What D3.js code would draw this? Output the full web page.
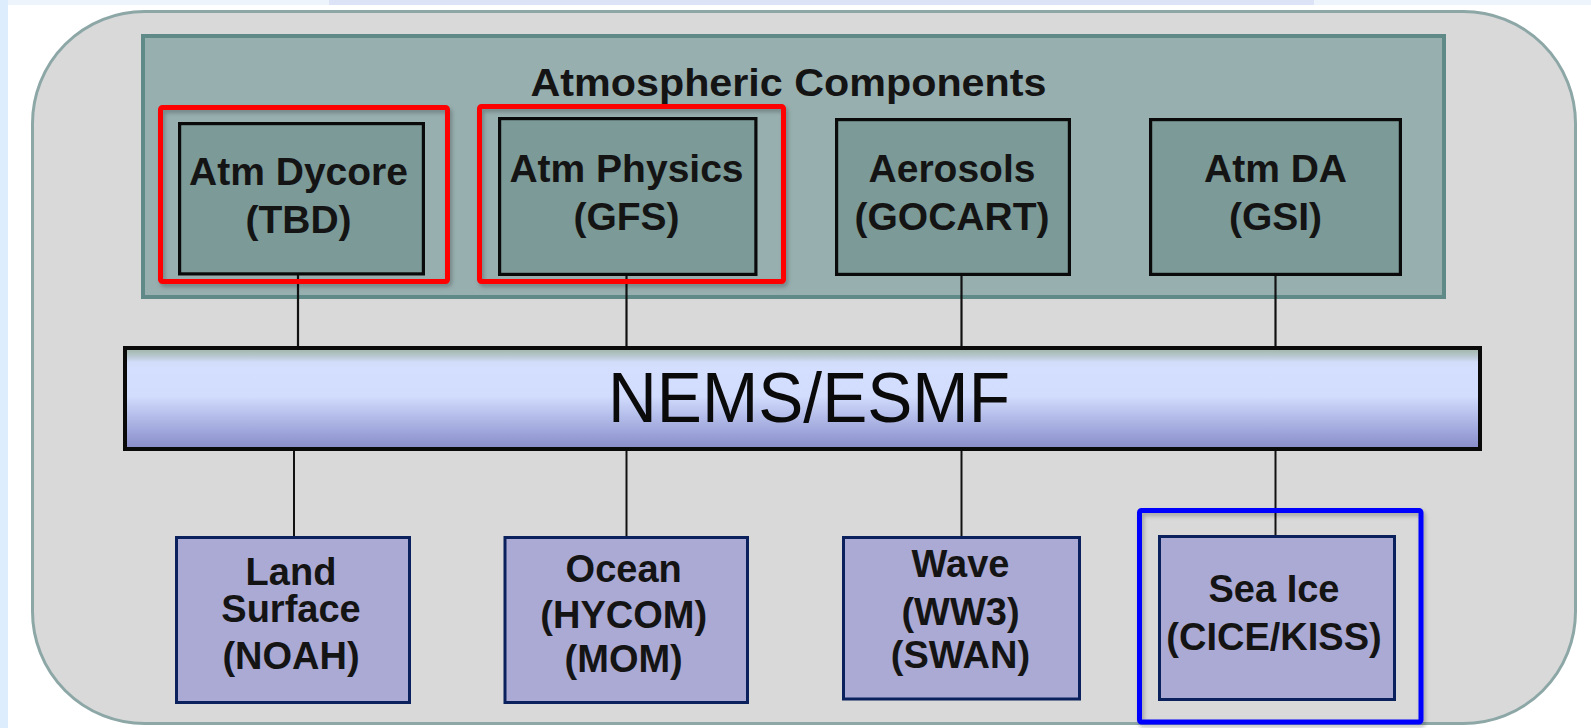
<!DOCTYPE html>
<html>
<head>
<meta charset="utf-8">
<script src="https://cdn.jsdelivr.net/npm/d3@7/dist/d3.min.js"></script>
<style>
  html, body { margin: 0; padding: 0; background: #ffffff; overflow: hidden; }
  svg { display: block; }
</style>
</head>
<body>
<svg id="chart" width="1591" height="728"></svg>
<script>
// ---------------- DATA ----------------
const groupTitle = "Atmospheric Components";
const busLabel = "NEMS/ESMF";
const atmComponents = ["Atm Dycore", "Atm Physics", "Aerosols", "Atm DA"];
const atmModels = [["(TBD)"], ["(GFS)"], ["(GOCART)"], ["(GSI)"]];
const earthComponents = [["Land", "Surface"], ["Ocean"], ["Wave"], ["Sea Ice"]];
const earthModels = [["(NOAH)"], ["(HYCOM)", "(MOM)"], ["(WW3)", "(SWAN)"], ["(CICE/KISS)"]];
const redHighlighted = ["Atm Dycore", "Atm Physics"];
const blueHighlighted = ["Sea Ice"];

// ---------------- LAYOUT (positions / sizes, kept apart from data) ----------------
const W = 1591, H = 728;
const layout = {
  outer: { x0: 31, y0: 10, x1: 1577, y1: 725, r: 112, sw: 3 },
  group: { x0: 141, y0: 34, x1: 1446, y1: 299, sw: 4 },
  titleX: 788.5, titleY: 95.7, titleLen: 516,
  bus: { x0: 123, y0: 346, x1: 1482, y1: 451, sw: 4 },
  busTextX: 809, busTextY: 421.7, busTextLen: 402,
  topBoxes: [[178, 122, 425, 275.5], [498, 117, 757.5, 276], [835, 118, 1071, 276], [1149, 118, 1402, 276]],
  topTextX: [298.5, 626.5, 952, 1275.5],
  topBaselines: [[185, 232.5], [182, 229.5], [182, 230], [182, 230]],
  topLinkX: [298, 626.5, 961.5, 1275.5],
  redBoxes: [[158, 105, 450, 284], [477, 104, 786, 284]],
  botBoxes: [[175, 536, 411, 704], [503.5, 536, 749, 704], [842, 536, 1081, 700.5], [1158, 535, 1396, 701]],
  botTextX: [291, 623.7, 960.5, 1274],
  botBaselines: [[585, 621.7, 669.3], [581.7, 628.3, 671.7], [576.7, 625, 668.3], [601.7, 650]],
  botLinkX: [294, 626.5, 961.5, 1275.5],
  blueBoxes: [[1137, 508, 1423.5, 724.5]]
};

const svg = d3.select("#chart");
const defs = svg.append("defs");

const busGrad = defs.append("linearGradient").attr("id", "busGrad")
  .attr("x1", 0).attr("y1", 0).attr("x2", 0).attr("y2", 1);
[[0, "#9fb4a9"], [0.04, "#aabdb8"], [0.09, "#bccad6"], [0.14, "#d2dcfa"], [0.2, "#d4defe"],
 [0.48, "#d2dcfd"], [0.62, "#bcc6ef"], [0.8, "#a3aade"], [1, "#878bc8"]]
  .forEach(([o, c]) => busGrad.append("stop").attr("offset", o).attr("stop-color", c));

const shadow = defs.append("filter").attr("id", "shadow")
  .attr("x", "-10%").attr("y", "-10%").attr("width", "120%").attr("height", "130%");
shadow.append("feDropShadow").attr("dx", 2).attr("dy", 3).attr("stdDeviation", 2)
  .attr("flood-color", "#000").attr("flood-opacity", 0.25);

// page background hints
svg.append("rect").attr("x", 0).attr("y", 0).attr("width", W).attr("height", H).attr("fill", "#ffffff");
svg.append("rect").attr("x", 0).attr("y", 0).attr("width", W).attr("height", 5).attr("fill", "#eef4fc");
svg.append("rect").attr("x", 329).attr("y", 0).attr("width", 985).attr("height", 5).attr("fill", "#dde3f7");
svg.append("rect").attr("x", 0).attr("y", 0).attr("width", 8).attr("height", H).attr("fill", "#ddedfd");

// helper: rect from outer extents, inset by half stroke
function boxRect(sel, b, sw) {
  return sel.attr("x", b[0] + sw / 2).attr("y", b[1] + sw / 2)
    .attr("width", b[2] - b[0] - sw).attr("height", b[3] - b[1] - sw);
}

// outer rounded container
const o = layout.outer;
boxRect(svg.append("rect"), [o.x0, o.y0, o.x1, o.y1], o.sw)
  .attr("rx", o.r).attr("ry", o.r)
  .attr("fill", "#d9d9d9").attr("stroke", "#8da7a7").attr("stroke-width", o.sw);

// atmospheric group container
const g = layout.group;
boxRect(svg.append("rect"), [g.x0, g.y0, g.x1, g.y1], g.sw)
  .attr("fill", "#98afb0").attr("stroke", "#5f8a87").attr("stroke-width", g.sw);

svg.append("text").text(groupTitle)
  .attr("x", layout.titleX).attr("y", layout.titleY)
  .attr("text-anchor", "middle")
  .attr("font-family", "Liberation Sans, Arial, sans-serif").attr("font-weight", "bold")
  .attr("font-size", 39).attr("fill", "#141414")
  .attr("textLength", layout.titleLen).attr("lengthAdjust", "spacingAndGlyphs");

// connectors (drawn before the bus so the bus covers their ends)
const topData = atmComponents.map((name, i) => ({ name, lines: [name].concat(atmModels[i]), i }));
const botData = earthComponents.map((lines, i) => ({ name: lines.join(" "), lines: lines.concat(earthModels[i]), i }));

svg.append("g").selectAll("line").data(topData).join("line")
  .attr("x1", d => layout.topLinkX[d.i]).attr("x2", d => layout.topLinkX[d.i])
  .attr("y1", d => layout.topBoxes[d.i][3] - 1).attr("y2", layout.bus.y0 + 8)
  .attr("stroke", "#111").attr("stroke-width", 2.2);

svg.append("g").selectAll("line").data(botData).join("line")
  .attr("x1", d => layout.botLinkX[d.i]).attr("x2", d => layout.botLinkX[d.i])
  .attr("y1", layout.bus.y1 - 2).attr("y2", d => layout.botBoxes[d.i][1] + 3)
  .attr("stroke", "#111").attr("stroke-width", 2);

// red highlight frames
svg.append("g").selectAll("rect").data(redHighlighted).join("rect")
  .each(function (d, i) { boxRect(d3.select(this), layout.redBoxes[i], 5); })
  .attr("rx", 2).attr("fill", "none").attr("stroke", "#ff0000").attr("stroke-width", 5)
  .attr("filter", "url(#shadow)");

// top component boxes
const topG = svg.append("g").selectAll("g").data(topData).join("g");
topG.append("rect")
  .each(function (d) { boxRect(d3.select(this), layout.topBoxes[d.i], 3.2); })
  .attr("fill", "#7b9a98").attr("stroke", "#0a0a0a").attr("stroke-width", 3.2);
topG.each(function (d) {
  d3.select(this).selectAll("text").data(d.lines).join("text")
    .text(t => t)
    .attr("x", layout.topTextX[d.i])
    .attr("y", (t, j) => layout.topBaselines[d.i][j])
    .attr("text-anchor", "middle")
    .attr("font-family", "Liberation Sans, Arial, sans-serif").attr("font-weight", "bold")
    .attr("font-size", 39).attr("fill", "#141414");
});

// NEMS/ESMF bus
const b = layout.bus;
boxRect(svg.append("rect"), [b.x0, b.y0, b.x1, b.y1], b.sw)
  .attr("fill", "url(#busGrad)").attr("stroke", "#0a0a0a").attr("stroke-width", b.sw);
svg.append("text").text(busLabel)
  .attr("x", layout.busTextX).attr("y", layout.busTextY)
  .attr("text-anchor", "middle")
  .attr("font-family", "Liberation Sans, Arial, sans-serif")
  .attr("font-size", 70).attr("fill", "#0a0a0a")
  .attr("textLength", layout.busTextLen).attr("lengthAdjust", "spacingAndGlyphs");

// blue highlight frame
svg.append("g").selectAll("rect").data(blueHighlighted).join("rect")
  .each(function (d, i) { boxRect(d3.select(this), layout.blueBoxes[i], 5); })
  .attr("rx", 2).attr("fill", "none").attr("stroke", "#0000ff").attr("stroke-width", 5)
  .attr("filter", "url(#shadow)");

// bottom component boxes
const botG = svg.append("g").selectAll("g").data(botData).join("g");
botG.append("rect")
  .each(function (d) { boxRect(d3.select(this), layout.botBoxes[d.i], 3); })
  .attr("fill", "#aaaad4").attr("stroke", "#0b215e").attr("stroke-width", 3);
botG.each(function (d) {
  d3.select(this).selectAll("text").data(d.lines).join("text")
    .text(t => t)
    .attr("x", layout.botTextX[d.i])
    .attr("y", (t, j) => layout.botBaselines[d.i][j])
    .attr("text-anchor", "middle")
    .attr("font-family", "Liberation Sans, Arial, sans-serif").attr("font-weight", "bold")
    .attr("font-size", 38).attr("fill", "#141414");
});
</script>
</body>
</html>
